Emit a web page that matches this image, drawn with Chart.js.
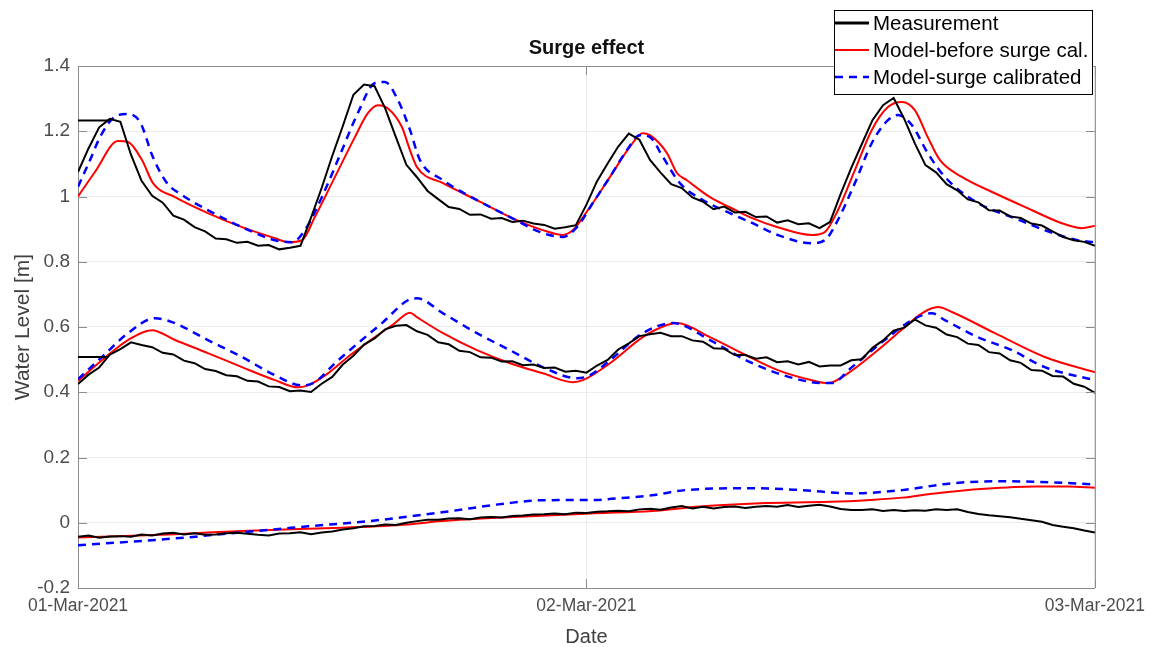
<!DOCTYPE html>
<html>
<head>
<meta charset="utf-8">
<title>Surge effect</title>
<script src="https://cdn.jsdelivr.net/npm/chart.js@4.4.1/dist/chart.umd.min.js"></script>
<style>
    html, body { margin: 0; padding: 0; background: #fff; }
    #wrap { width: 1153px; height: 647px; }
</style>
</head>
<body>
<div id="wrap"><canvas id="levelChart" width="1153" height="647"></canvas></div>
<script>
const FONT = '"Liberation Sans", Arial, Helvetica, sans-serif';

// axis ticks
const xTickHours = [0, 24, 48];
const xTickLabels = ['01-Mar-2021', '02-Mar-2021', '03-Mar-2021'];
const yTicks = [-0.2, 0, 0.2, 0.4, 0.6, 0.8, 1, 1.2, 1.4];
const yTickLabels = ['-0.2', '0', '0.2', '0.4', '0.6', '0.8', '1', '1.2', '1.4'];

const legendLabels = ['Measurement', 'Model-before surge cal.', 'Model-surge calibrated'];

// gauge readings every 30 min (hours since 01-Mar 00:00)
const measHours = [];
for (let i = 0; i <= 96; i++) measHours.push(i / 2);

const topMeas = [
    1.075, 1.148, 1.212, 1.238, 1.229, 1.128, 1.048, 1.002, 0.981, 0.941,
    0.929, 0.906, 0.893, 0.871, 0.869, 0.858, 0.861, 0.849, 0.851, 0.838,
    0.843, 0.849, 0.935, 1.026, 1.124, 1.216, 1.312, 1.343, 1.338, 1.270,
    1.183, 1.097, 1.059, 1.017, 0.992, 0.968, 0.962, 0.944, 0.945, 0.932,
    0.934, 0.922, 0.926, 0.917, 0.913, 0.901, 0.906, 0.912, 0.975, 1.047,
    1.101, 1.153, 1.193, 1.174, 1.112, 1.073, 1.038, 1.026, 0.997, 0.984,
    0.961, 0.969, 0.951, 0.953, 0.937, 0.939, 0.920, 0.927, 0.915, 0.918,
    0.903, 0.922, 1.008, 1.088, 1.161, 1.234, 1.280, 1.302, 1.238, 1.163,
    1.096, 1.074, 1.038, 1.019, 0.991, 0.982, 0.958, 0.957, 0.939, 0.934,
    0.917, 0.911, 0.893, 0.876, 0.866, 0.861, 0.849
];

const midMeas = [
    0.425, 0.454, 0.476, 0.515, 0.532, 0.553, 0.545, 0.538, 0.521, 0.516,
    0.497, 0.489, 0.471, 0.465, 0.452, 0.449, 0.435, 0.433, 0.418, 0.416,
    0.403, 0.405, 0.401, 0.426, 0.447, 0.485, 0.512, 0.546, 0.565, 0.593,
    0.604, 0.606, 0.587, 0.576, 0.553, 0.547, 0.527, 0.523, 0.507, 0.506,
    0.494, 0.495, 0.483, 0.485, 0.474, 0.476, 0.463, 0.466, 0.460, 0.482,
    0.499, 0.531, 0.550, 0.572, 0.578, 0.582, 0.572, 0.572, 0.559, 0.555,
    0.535, 0.533, 0.514, 0.514, 0.503, 0.507, 0.492, 0.495, 0.485, 0.493,
    0.479, 0.482, 0.482, 0.498, 0.501, 0.536, 0.559, 0.589, 0.598, 0.623,
    0.605, 0.598, 0.577, 0.569, 0.549, 0.545, 0.523, 0.519, 0.498, 0.490,
    0.468, 0.466, 0.450, 0.448, 0.426, 0.417, 0.398
];

const botMeas = [
    -0.043, -0.039, -0.046, -0.042, -0.041, -0.043, -0.036, -0.039, -0.033, -0.031,
    -0.036, -0.032, -0.037, -0.036, -0.032, -0.031, -0.034, -0.037, -0.039, -0.033,
    -0.032, -0.029, -0.035, -0.030, -0.027, -0.021, -0.017, -0.011, -0.010, -0.005,
    -0.007, 0.000, 0.005, 0.009, 0.009, 0.013, 0.014, 0.011, 0.016, 0.018,
    0.016, 0.021, 0.022, 0.025, 0.026, 0.028, 0.026, 0.031, 0.030, 0.034,
    0.035, 0.037, 0.035, 0.041, 0.043, 0.040, 0.047, 0.051, 0.044, 0.049,
    0.044, 0.048, 0.050, 0.045, 0.049, 0.051, 0.049, 0.054, 0.048, 0.052,
    0.055, 0.050, 0.042, 0.039, 0.039, 0.041, 0.036, 0.039, 0.036, 0.038,
    0.037, 0.041, 0.039, 0.041, 0.033, 0.027, 0.023, 0.020, 0.017, 0.012,
    0.008, 0.003, -0.007, -0.012, -0.017, -0.024, -0.030
];

// short flat stretches of the record at the start
const topStubHours = [0, 1.5];
const topStub = [1.233, 1.233];
const midStubHours = [0, 1.4];
const midStub = [0.508, 0.508];

// model before surge calibration
const topModelHours = [
    0, 0.8, 1.89, 2.36, 3.02, 3.54, 4.58, 6.13, 7.74, 9.3,
    9.91, 10.57, 11.18, 12.13, 13.07, 13.69, 14.16, 14.63, 15.29, 15.67,
    16.0, 17.23, 18.83, 20.39, 21.94, 22.89, 23.36, 24.16, 25.11, 26.05,
    26.66, 27.0, 27.8, 28.27, 28.74, 29.83, 30.77, 31.71, 33.03, 34.64,
    35.25, 35.87, 36.67, 37.47, 38.23, 38.89, 39.5, 40.11, 40.68, 41.72,
    43.28, 44.83, 46.44, 47.38, 48
];
const topModel = [
    1.0, 1.075, 1.17, 1.167, 1.112, 1.041, 0.998, 0.949, 0.906, 0.872,
    0.86, 0.866, 0.937, 1.06, 1.182, 1.256, 1.28, 1.27, 1.213, 1.142,
    1.09, 1.041, 0.989, 0.937, 0.897, 0.882, 0.897, 0.967, 1.06, 1.152,
    1.194, 1.188, 1.133, 1.072, 1.05, 0.998, 0.967, 0.937, 0.906, 0.882,
    0.891, 0.958, 1.081, 1.204, 1.274, 1.29, 1.265, 1.182, 1.112, 1.06,
    1.01, 0.964, 0.918, 0.903, 0.91
];

const midModelHours = [
    0, 1.13, 2.36, 3.49, 4.58, 6.13, 7.74, 9.3, 10.38, 10.85,
    11.8, 12.74, 14.02, 14.96, 15.67, 16.0, 17.23, 18.83, 20.39, 21.94,
    23.36, 23.83, 25.11, 26.66, 27.8, 28.27, 29.83, 31.48, 33.03, 34.64,
    35.39, 36.2, 37.75, 39.03, 39.83, 40.59, 41.25, 43.28, 45.63, 48
];
const midModel = [
    0.435, 0.498, 0.56, 0.59, 0.56, 0.52, 0.477, 0.437, 0.415, 0.421,
    0.458, 0.508, 0.569, 0.612, 0.644, 0.63, 0.581, 0.529, 0.489, 0.458,
    0.431, 0.437, 0.489, 0.569, 0.606, 0.612, 0.569, 0.515, 0.468, 0.437,
    0.428, 0.452, 0.529, 0.6, 0.642, 0.661, 0.646, 0.581, 0.508, 0.461
];

const botModelHours = [0, 4.58, 7.74, 12.46, 15.57, 17.18, 20.29, 24.4, 27.09, 29.35, 32.19, 35.49, 37.38, 38.89, 40.44, 42.8, 45.16, 46.72, 48];
const botModel = [-0.045, -0.035, -0.025, -0.015, -0.005, 0.005, 0.017, 0.029, 0.036, 0.05, 0.06, 0.064, 0.07, 0.077, 0.09, 0.104, 0.111, 0.111, 0.107];

// model after surge calibration
const topCalHours = [
    0, 0.57, 1.04, 1.65, 2.31, 2.93, 3.54, 4.2, 4.9, 6.13,
    7.74, 9.3, 10.1, 10.71, 11.51, 12.46, 13.21, 14.02, 14.49, 15.1,
    15.67, 16.14, 17.23, 18.83, 20.39, 21.94, 22.89, 23.55, 24.3, 25.11,
    25.91, 26.52, 27.0, 27.61, 28.41, 29.49, 30.77, 31.71, 33.03, 34.64,
    35.25, 35.87, 36.67, 37.47, 38.23, 38.7, 39.36, 40.11, 40.92, 42.47,
    44.08, 45.63, 47.19, 48
];
const topCal = [
    1.03, 1.112, 1.182, 1.24, 1.253, 1.228, 1.12, 1.041, 1.005, 0.958,
    0.906, 0.866, 0.86, 0.897, 0.998, 1.142, 1.256, 1.348, 1.351, 1.296,
    1.204, 1.112, 1.05, 0.989, 0.937, 0.888, 0.876, 0.906, 0.98, 1.06,
    1.142, 1.188, 1.182, 1.121, 1.041, 0.989, 0.949, 0.922, 0.882, 0.857,
    0.866, 0.928, 1.041, 1.164, 1.234, 1.25, 1.219, 1.133, 1.06, 0.98,
    0.937, 0.897, 0.866, 0.86
];

const midCalHours = [
    0, 1.13, 2.36, 3.63, 4.44, 6.13, 7.74, 9.3, 10.57, 11.18,
    12.13, 13.21, 14.35, 15.57, 16.0, 17.23, 18.83, 20.39, 21.94, 23.55,
    24.16, 25.11, 26.66, 28.08, 29.83, 31.48, 33.03, 34.64, 35.58, 36.53,
    38.08, 39.36, 40.3, 40.92, 42.47, 44.08, 45.63, 48
];
const midCal = [
    0.44, 0.508, 0.581, 0.627, 0.615, 0.56, 0.508, 0.452, 0.421, 0.431,
    0.489, 0.55, 0.612, 0.682, 0.688, 0.642, 0.581, 0.529, 0.477, 0.443,
    0.452, 0.498, 0.581, 0.612, 0.56, 0.5, 0.458, 0.431, 0.428, 0.477,
    0.56, 0.621, 0.642, 0.621, 0.569, 0.529, 0.477, 0.437
];

const botCalHours = [0, 4.58, 7.74, 10.85, 14.02, 17.18, 20.29, 21.9, 24.4, 25.48, 27.09, 28.65, 31.81, 34.17, 36.53, 38.89, 41.25, 43.61, 45.97, 48];
const botCal = [-0.069, -0.048, -0.029, -0.011, 0.007, 0.032, 0.06, 0.069, 0.07, 0.075, 0.084, 0.1, 0.106, 0.1, 0.09, 0.1, 0.121, 0.127, 0.124, 0.117];

function pts(xs, ys) {
    return ys.map((y, i) => ({ x: xs[i], y: y }));
}

const measStyle = {
    borderColor: '#000000', borderWidth: 2, pointRadius: 0, tension: 0, order: 0
};
const modelStyle = {
    borderColor: '#ff0000', borderWidth: 2, pointRadius: 0,
    cubicInterpolationMode: 'monotone', order: 2
};
const calStyle = {
    borderColor: '#0000ff', borderWidth: 2.5, borderDash: [8, 6], pointRadius: 0,
    cubicInterpolationMode: 'monotone', order: 1
};

const datasets = [
    { label: legendLabels[0], data: pts(measHours, topMeas), ...measStyle },
    { label: legendLabels[1], data: pts(topModelHours, topModel), ...modelStyle },
    { label: legendLabels[2], data: pts(topCalHours, topCal), ...calStyle },
    { label: 'mid meas', data: pts(measHours, midMeas), ...measStyle },
    { label: 'mid model', data: pts(midModelHours, midModel), ...modelStyle },
    { label: 'mid cal', data: pts(midCalHours, midCal), ...calStyle },
    { label: 'bot meas', data: pts(measHours, botMeas), ...measStyle },
    { label: 'bot model', data: pts(botModelHours, botModel), ...modelStyle },
    { label: 'bot cal', data: pts(botCalHours, botCal), ...calStyle },
    { label: 'top stub', data: pts(topStubHours, topStub), ...measStyle },
    { label: 'mid stub', data: pts(midStubHours, midStub), ...measStyle }
];

// box around the axes, inward tick marks, titles and the legend
const decorations = {
    id: 'decorations',
    afterDraw(chart) {
        const c = chart.ctx;
        const a = chart.chartArea;
        const xs = chart.scales.x;
        const ys = chart.scales.y;
        c.save();

        c.strokeStyle = '#8c8c8c';
        c.lineWidth = 1;
        c.beginPath();
        c.moveTo(a.left, a.top + 0.5);
        c.lineTo(a.right + 0.5, a.top + 0.5);
        c.lineTo(a.right + 0.5, a.bottom);
        yTicks.forEach(v => {
            const y = Math.round(ys.getPixelForValue(v)) + 0.5;
            c.moveTo(a.left, y); c.lineTo(a.left + 9, y);
            c.moveTo(a.right, y); c.lineTo(a.right - 9, y);
        });
        xTickHours.forEach(v => {
            const x = Math.round(xs.getPixelForValue(v)) + 0.5;
            c.moveTo(x, a.bottom); c.lineTo(x, a.bottom - 9);
            c.moveTo(x, a.top); c.lineTo(x, a.top + 9);
        });
        c.stroke();

        c.fillStyle = '#111111';
        c.textAlign = 'center';
        c.textBaseline = 'middle';
        c.font = 'bold 20px ' + FONT;
        c.fillText('Surge effect', (a.left + a.right) / 2, 48);

        c.fillStyle = '#404040';
        c.font = '20px ' + FONT;
        c.fillText('Date', (a.left + a.right) / 2, 637);

        c.save();
        c.translate(23, (a.top + a.bottom) / 2);
        c.rotate(-Math.PI / 2);
        c.font = '21px ' + FONT;
        c.fillText('Water Level [m]', 0, 0);
        c.restore();

        // legend
        c.fillStyle = '#ffffff';
        c.fillRect(834.5, 10.5, 258, 84);
        c.strokeStyle = '#000000';
        c.lineWidth = 1;
        c.strokeRect(834.5, 10.5, 258, 84);
        c.textAlign = 'left';
        c.font = '20.5px ' + FONT;
        legendLabels.forEach((label, i) => {
            const ds = chart.data.datasets[i];
            const y = 23 + i * 27;
            c.beginPath();
            c.setLineDash(ds.borderDash || []);
            c.lineWidth = i === 0 ? 3 : ds.borderWidth;
            c.strokeStyle = ds.borderColor;
            c.moveTo(835, y);
            c.lineTo(869, y);
            c.stroke();
            c.setLineDash([]);
            c.fillStyle = '#000000';
            c.fillText(label, 873, y + 1);
        });

        c.restore();
    }
};

const ctx = document.getElementById('levelChart').getContext('2d');

const chart = new Chart(ctx, {
    type: 'line',
    data: { datasets: datasets },
    plugins: [decorations],
    options: {
        responsive: false,
        animation: false,
        layout: { padding: { top: 66, right: 58, left: 0, bottom: 0 } },
        plugins: {
            legend: { display: false },
            title: { display: false },
            tooltip: { enabled: false }
        },
        scales: {
            x: {
                type: 'linear',
                min: 0,
                max: 48,
                afterBuildTicks: s => { s.ticks = xTickHours.map(v => ({ value: v })); },
                afterFit: s => { s.height = 59; },
                ticks: {
                    callback: (v, i) => xTickLabels[i],
                    autoSkip: false,
                    maxRotation: 0,
                    padding: 8,
                    color: '#4d4d4d',
                    font: { family: FONT, size: 17.5 }
                },
                grid: { color: '#ececec', drawTicks: false },
                border: { color: '#8c8c8c' }
            },
            y: {
                type: 'linear',
                min: -0.2,
                max: 1.4,
                afterBuildTicks: s => { s.ticks = yTicks.map(v => ({ value: v })); },
                afterFit: s => { s.width = 78; },
                ticks: {
                    callback: (v, i) => yTickLabels[i],
                    padding: 8,
                    color: '#4d4d4d',
                    font: { family: FONT, size: 19 }
                },
                grid: { color: '#ececec', drawTicks: false },
                border: { color: '#8c8c8c' }
            }
        }
    }
});
</script>
</body>
</html>
